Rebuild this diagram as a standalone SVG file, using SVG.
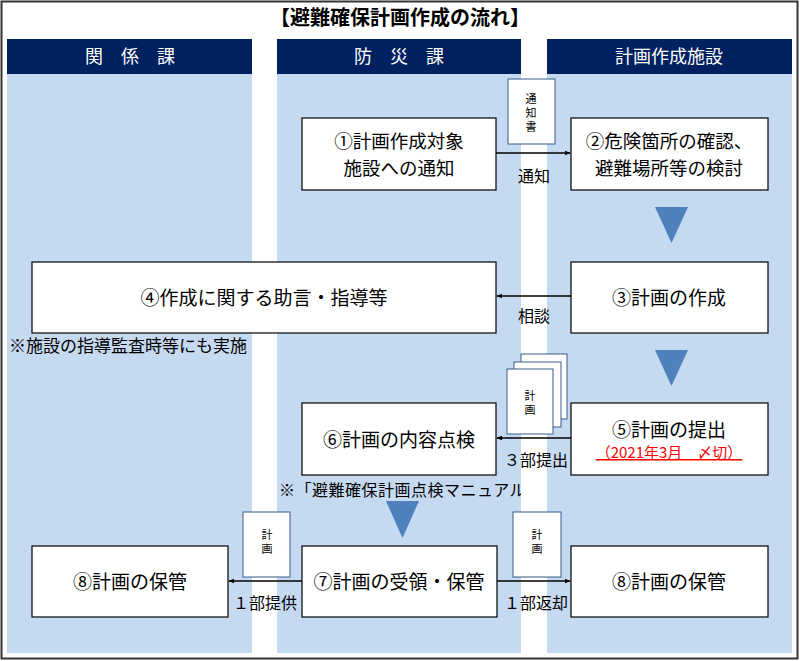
<svg xmlns="http://www.w3.org/2000/svg" width="800" height="661" viewBox="0 0 800 661">
<style>
text{font-family:"Noto Sans CJK JP","Noto Sans",sans-serif;fill:#000}
.col{fill:#C5D9F1}
.hdr{fill:#002060}
.ht{fill:#fff;font-size:18px;text-anchor:middle}
.box{fill:#fff;stroke:#000;stroke-width:1.2}
.bt{font-size:19px;text-anchor:middle}
.bt2{font-size:18.5px;text-anchor:middle}
.doc{fill:#fff;stroke:#385D8A;stroke-width:1}
.dt{font-size:11px;writing-mode:vertical-rl;letter-spacing:3px}
.lbl{font-size:16px;text-anchor:middle}
.tri{fill:#4F81BD}
.conn line{stroke:#000;stroke-width:1.5}
</style>
<defs>
<marker id="ah" viewBox="0 0 10 10" refX="9" refY="5" markerWidth="6" markerHeight="6" orient="auto-start-reverse" markerUnits="userSpaceOnUse">
<path d="M0,1 L10,5 L0,9 z" fill="#000"/>
</marker>
<clipPath id="c2"><rect x="0" y="470" width="521" height="30"/></clipPath>
</defs>
<rect x="0" y="0" width="800" height="661" fill="#fff"/>
<rect x="1.5" y="1.5" width="796" height="657" fill="none" stroke="#333" stroke-width="2"/>
<text x="400" y="25" font-size="20" font-weight="bold" text-anchor="middle">【避難確保計画作成の流れ】</text>
<g id="lanes">
<rect class="col" x="7" y="39" width="245" height="614"/>
<rect class="col" x="277" y="39" width="244" height="614"/>
<rect class="col" x="547" y="39" width="245" height="614"/>
<rect class="hdr" x="7" y="39" width="245" height="35"/>
<rect class="hdr" x="277" y="39" width="244" height="35"/>
<rect class="hdr" x="547" y="39" width="245" height="35"/>
<text class="ht" x="130" y="63">関　係　課</text>
<text class="ht" x="399" y="63">防　災　課</text>
<text class="ht" x="669" y="63">計画作成施設</text>
</g>
<g id="n1"><rect class="box" x="302" y="118" width="194" height="72"/>
<text class="bt2" x="399" y="148">①計画作成対象</text><text class="bt2" x="399" y="175">施設への通知</text></g>
<g id="n2"><rect class="box" x="571" y="118" width="197" height="72"/>
<text class="bt2" x="669" y="148">②危険箇所の確認、</text><text class="bt2" x="669" y="175">避難場所等の検討</text></g>
<g id="doc1"><rect class="doc" x="508" y="79" width="47" height="65"/>
<text class="dt" x="531" y="93">通知書</text></g>
<g id="n4"><rect class="box" x="32" y="262" width="464" height="71"/>
<text class="bt" x="264" y="305">④作成に関する助言・指導等</text></g>
<g id="n3"><rect class="box" x="571" y="262" width="197" height="71"/>
<text class="bt" x="669" y="305">③計画の作成</text></g>
<text x="9" y="352" font-size="17">※施設の指導監査時等にも実施</text>
<g id="doc2">
<rect class="doc" x="521" y="354" width="46" height="65"/>
<rect class="doc" x="514" y="362" width="47" height="65"/>
<rect class="doc" x="507" y="369" width="46" height="65"/>
<text class="dt" x="530" y="390">計画</text></g>
<g id="n5"><rect class="box" x="571" y="403" width="197" height="72"/>
<text class="bt" x="669" y="437">⑤計画の提出</text>
<text x="669" y="458" font-size="15" text-anchor="middle" style="fill:#FF0000" text-decoration="underline">（2021年3月　〆切）</text></g>
<g id="n6"><rect class="box" x="302" y="403" width="194" height="72"/>
<text class="bt" x="399" y="447">⑥計画の内容点検</text></g>
<text x="279" y="496" font-size="16" clip-path="url(#c2)" letter-spacing="0.5">※「避難確保計画点検マニュアル」</text>
<g id="n7"><rect class="box" x="302" y="546" width="195" height="71"/>
<text class="bt" x="399" y="589">⑦計画の受領・保管</text></g>
<g id="n8a"><rect class="box" x="32" y="546" width="196" height="71"/>
<text class="bt" x="130" y="589">⑧計画の保管</text></g>
<g id="n8b"><rect class="box" x="571" y="546" width="197" height="71"/>
<text class="bt" x="669" y="589">⑧計画の保管</text></g>
<g id="doc3"><rect class="doc" x="243" y="512" width="47" height="65"/>
<text class="dt" x="267" y="529">計画</text></g>
<g id="doc4"><rect class="doc" x="513" y="512" width="48" height="65"/>
<text class="dt" x="537" y="529">計画</text></g>
<g id="connectors" class="conn">
<line x1="496" y1="153" x2="570" y2="153" marker-end="url(#ah)"/>
<line x1="571" y1="296" x2="497" y2="296" marker-end="url(#ah)"/>
<line x1="571" y1="438" x2="497" y2="438" marker-end="url(#ah)"/>
<line x1="302" y1="581" x2="229" y2="581" marker-end="url(#ah)"/>
<line x1="497" y1="581" x2="570" y2="581" marker-end="url(#ah)"/>
<polygon class="tri" points="655,207 688,207 671.5,243"/>
<polygon class="tri" points="655,350 688,350 671.5,386"/>
<polygon class="tri" points="386,501 419,501 402.5,538"/>
</g>
<text class="lbl" x="534" y="182">通知</text>
<text class="lbl" x="534" y="322">相談</text>
<text class="lbl" x="536" y="466">３部提出</text>
<text class="lbl" x="265" y="609">１部提供</text>
<text class="lbl" x="536" y="609">１部返却</text>
</svg>
